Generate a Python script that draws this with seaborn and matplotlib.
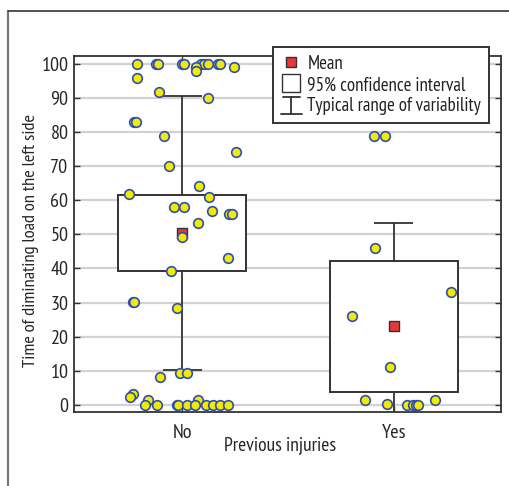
import matplotlib
matplotlib.use("Agg")
import matplotlib.pyplot as plt
from matplotlib.lines import Line2D
from matplotlib.patches import Rectangle
from matplotlib.legend_handler import HandlerBase
import numpy as np
import pandas as pd
import seaborn as sns

# Groups on the x axis
groups = ["No", "Yes"]

# Individual observations and their horizontal jitter, per group
no_values = [100, 100, 100, 100, 100, 100, 100, 100, 100, 100,
             99.1, 99.0, 97.9, 95.9, 91.8, 90.0, 82.8, 82.8,
             78.9, 74.1, 70.1, 64.1, 61.9, 60.9,
             58.0, 58.0, 56.9, 56.0, 56.0, 53.3, 49.2, 43.2, 39.1,
             30.1, 30.1, 28.3, 9.3, 9.3, 8.3, 3.3, 2.3, 1.5, 1.5,
             0, 0, 0, 0, 0, 0, 0, 0, 0, 0]
no_jitter = [-0.212, -0.125, -0.115, 0.0, 0.008, 0.09, 0.105, 0.12, 0.168, 0.178,
             0.066, 0.247, 0.066, -0.212, -0.108, 0.123, -0.228, -0.219,
             -0.086, 0.253, -0.061, 0.08, -0.252, 0.127,
             -0.04, 0.008, 0.143, 0.222, 0.234, 0.074, 0.0, 0.215, -0.052,
             -0.231, -0.225, -0.024, -0.008, 0.022, -0.104, -0.23, -0.245, -0.159, 0.077,
             -0.175, -0.119, -0.025, -0.017, 0.025, 0.061, 0.113, 0.148, 0.179, 0.218]
yes_values = [78.9, 78.9, 45.9, 33.2, 26.1, 11.2, 1.3, 1.3, 0.2, 0, 0, 0, 0]
yes_jitter = [-0.096, -0.041, -0.088, 0.267, -0.198, -0.017, -0.137, 0.193,
              -0.032, 0.063, 0.091, 0.104, 0.115]

# Group summaries: mean, 95% confidence interval, typical range (mean +/- SD)
means = [50.3, 23.0]
ci_low = [39.1, 3.7]
ci_high = [61.4, 42.3]
range_low = [10.1, -7.3]
range_high = [90.5, 53.3]

y_ticks = [0, 10, 20, 30, 40, 50, 60, 70, 80, 90, 100]

FONT = "PT Sans Narrow"
YELLOW = "#f2ea00"
BLUE = "#2f4fae"
RED = "#e8373a"
DARK = "#333333"

sns.set_theme(style="white")
plt.rcParams["font.family"] = [FONT, "DejaVu Sans"]
plt.rcParams["text.color"] = "#222222"

points = pd.DataFrame({
    "group": ["No"] * len(no_values) + ["Yes"] * len(yes_values),
    "value": no_values + yes_values,
    "jitter": no_jitter + yes_jitter,
})
points["pos"] = points["group"].map({g: i for i, g in enumerate(groups)}) + points["jitter"]

summary = pd.DataFrame({
    "group": groups, "mean": means, "ci_low": ci_low, "ci_high": ci_high,
    "range_low": range_low, "range_high": range_high,
})
summary["pos"] = np.arange(len(groups))

fig = plt.figure(figsize=(5.09, 4.86), dpi=100)
ax = fig.add_axes([0.1454, 0.1523, 0.8389, 0.7325])

box_half = 0.302
cap_half = 0.092

# Typical range whiskers (behind the boxes)
ax.vlines(summary["pos"], summary["range_low"], summary["range_high"],
          color=DARK, lw=1.3, zorder=2)
ax.hlines(summary["range_low"], summary["pos"] - cap_half, summary["pos"] + cap_half,
          color=DARK, lw=1.3, zorder=2)
ax.hlines(summary["range_high"], summary["pos"] - cap_half, summary["pos"] + cap_half,
          color=DARK, lw=1.3, zorder=2)

# 95% confidence interval boxes
for _, row in summary.iterrows():
    ax.add_patch(Rectangle((row["pos"] - box_half, row["ci_low"]), 2 * box_half,
                           row["ci_high"] - row["ci_low"], facecolor="white",
                           edgecolor=DARK, lw=1.4, zorder=3))

# Means
sns.scatterplot(data=summary, x="pos", y="mean", marker="s", s=55, color=RED,
                edgecolor=DARK, linewidth=1.0, zorder=4, ax=ax, legend=False)

# Observations
sns.scatterplot(data=points, x="pos", y="value", marker="o", s=48, color=YELLOW,
                edgecolor=BLUE, linewidth=1.2, zorder=5, ax=ax, legend=False,
                clip_on=False)

ax.set_xlim(-0.51, 1.505)
ax.set_ylim(-2.1, 102.3)
ax.set_xticks(summary["pos"])
ax.set_xticklabels(groups)
ax.set_yticks(y_ticks)
ax.set_yticklabels([str(t) for t in y_ticks])

ax.yaxis.grid(True, color="#d2d2d2", lw=1.6)
ax.xaxis.grid(False)
ax.set_axisbelow(True)
for spine in ax.spines.values():
    spine.set_color(DARK)
    spine.set_linewidth(1.3)
    spine.set_visible(True)

ax.tick_params(axis="y", direction="in", length=4.5, width=1.0, color=DARK,
               left=True, right=True, labelsize=14.5, pad=4)
ax.tick_params(axis="x", direction="in", length=4.5, width=1.0, color=DARK,
               top=True, bottom=True, labelsize=14.5, pad=9)

ax.set_xlabel("Previous injuries", fontsize=14)
ax.xaxis.set_label_coords(0.482, -0.068)
ax.set_ylabel("Time of diminating load on the left side", fontsize=13.3)
ax.yaxis.set_label_coords(-0.083, 0.483)


class RangeHandler(HandlerBase):
    """Legend glyph for the typical range: a vertical bar with two caps."""

    def create_artists(self, legend, orig_handle, xdescent, ydescent,
                       width, height, fontsize, trans):
        cx = width / 2 - xdescent
        y0 = -ydescent - 0.1 * height
        y1 = -ydescent + 1.0 * height
        kw = dict(color=DARK, lw=1.3, transform=trans)
        return [
            Line2D([cx, cx], [y0, y1], **kw),
            Line2D([cx - 0.42 * width, cx + 0.42 * width], [y1, y1], **kw),
            Line2D([cx - 0.5 * width, cx + 0.5 * width], [y0, y0], **kw),
        ]


mean_handle = Line2D([], [], ls="none", marker="s", markersize=7.5,
                     markerfacecolor=RED, markeredgecolor=DARK, markeredgewidth=1.0)
ci_handle = Line2D([], [], ls="none", marker="s", markersize=12.5,
                   markerfacecolor="white", markeredgecolor=DARK, markeredgewidth=1.0)
range_handle = object()

leg = ax.legend([mean_handle, ci_handle, range_handle],
                ["Mean", "95% confidence interval", "Typical range of variability"],
                handler_map={range_handle.__class__: RangeHandler()},
                loc="upper right", bbox_to_anchor=(0.972, 1.025),
                fontsize=13.6, frameon=True, fancybox=False, framealpha=1,
                borderaxespad=0, borderpad=0.42, handlelength=1.1,
                handletextpad=0.3, labelspacing=0.14, handleheight=0.9)
leg.get_frame().set_edgecolor(DARK)
leg.get_frame().set_linewidth(1.4)
leg.set_zorder(10)

# Panel frame on the left and top of the figure
fig.add_artist(Line2D([7.5 / 509, 7.5 / 509], [0, 1 - 11 / 486],
                      transform=fig.transFigure, color="#777777", lw=1.6))
fig.add_artist(Line2D([7.5 / 509, 1], [1 - 11 / 486, 1 - 11 / 486],
                      transform=fig.transFigure, color="#444444", lw=1.3))

fig.savefig("out.png", dpi=100)
